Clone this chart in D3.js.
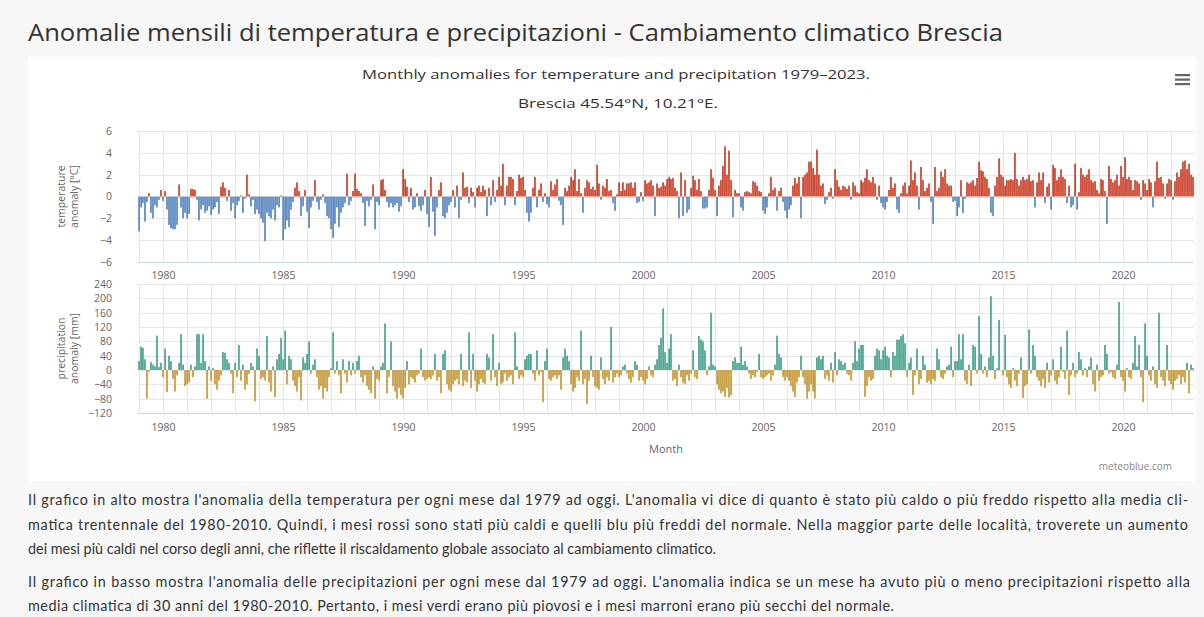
<!DOCTYPE html>
<html>
<head>
<meta charset="utf-8">
<script src="https://cdn.jsdelivr.net/npm/d3@7"></script>
<style>
  html, body { margin: 0; padding: 0; background: #f7f7f7; }
  svg { display: block; }
</style>
</head>
<body>
<div id="paper"></div>
<script>
// data, one row per year (Jan..Dec)

const startYear = 1979
const yearLabels = [1980, 1985, 1990, 1995, 2000, 2005, 2010, 2015, 2020]
const tempTicks = [-6, -4, -2, 0, 2, 4, 6]
const precipTicks = [-120, -80, -40, 0, 40, 80, 120, 160, 200, 240]

const temperatureAnomaly = [
  -3.2, -1.0, -0.6, -2.3, -0.5, 0.3, -1.5, -2.0, -0.8, -1.0, -0.3, 0.6, // 1979
  -0.4, 0.5, -1.2, -2.6, -2.9, -3.0, -3.0, -2.6, 1.1, -1.0, -2.0, -1.5,  // 1980
  -2.0, -1.6, 0.7, 0.7, 0.6, -0.3, -2.2, -1.2, -0.8, -1.5, -1.3, -0.9,   // 1981
  -1.7, -1.2, -1.0, -0.5, -1.6, 0.9, 1.3, 0.8, -0.4, 0.6, -1.3, -0.6,    // 1982
  -2.0, -0.8, -0.4, 0.1, -1.5, -0.2, 2.0, 0.2, -0.9, -0.3, -1.6, -1.2,   // 1983
  -1.6, -2.0, -2.4, -4.1, -1.5, -1.8, -2.0, -1.2, -2.2, -0.8, -1.0, 0.1, // 1984
  -4.0, -3.0, -2.2, -2.8, -1.2, -0.5, 0.8, 1.3, 0.5, -1.8, -0.9, 0.6,   // 1985
  -1.4, -2.9, -1.0, -0.4, 1.5, -0.5, -1.2, -0.3, 0.2, -0.6, -1.8, -2.0, // 1986
  -3.0, -3.8, -2.5, -1.0, -2.8, -1.5, -1.0, -0.6, 2.1, -0.8, -0.4, 0.5, // 1987
  2.1, 0.7, 0.5, 0.3, -0.6, -2.7, -0.4, -0.9, -0.3, 1.1, -3.0, -0.5,    // 1988
  -0.8, 1.5, 1.6, 0.6, -0.5, -1.0, -0.6, -1.0, -0.8, -0.6, -1.4, -0.9,  // 1989
  2.5, 1.6, 0.9, -0.5, 0.8, -1.2, -1.0, 0.3, -0.9, -1.3, -0.8, 0.6,     // 1990
  -1.6, -2.8, 1.8, -1.4, -3.6, -1.0, 0.6, 1.3, -1.8, -2.0, -1.5, -0.8,  // 1991
  -0.5, 0.6, -1.0, 1.0, -2.0, -0.3, 2.2, 0.8, 0.9, -0.6, 0.8, 0.4,      // 1992
  -1.0, 0.8, 1.0, 0.4, 1.0, 0.6, -1.8, 0.8, -0.8, 1.5, -0.5, 0.6,       // 1993
  1.8, 1.0, 3.0, -0.8, 1.0, 1.8, 1.8, 1.6, -0.8, 0.5, 2.0, 1.7,         // 1994
  1.8, 0.6, -1.5, -2.3, -1.5, 0.8, 1.8, -1.0, 0.6, 1.2, -0.5, 0.3,      // 1995
  -0.7, -1.0, 1.4, 0.6, 1.1, 1.6, -0.4, -0.8, -2.6, 0.8, 0.5, 1.0,      // 1996
  1.8, 1.5, 2.5, 0.5, 1.6, 0.3, -1.5, 0.8, 1.5, 1.3, 0.7, 0.9,          // 1997
  0.6, 2.9, 1.2, -0.3, 1.0, 0.8, 1.6, 0.5, 0.6, -0.6, -1.3, 0.2,        // 1998
  1.3, 0.5, 1.3, 0.6, 1.2, 1.2, 1.3, 0.8, 1.3, -0.6, -0.5, 0.4,         // 1999
  -0.4, 1.5, 1.2, 1.3, 1.5, 1.0, -1.8, 1.2, 0.8, 0.9, 1.3, 1.0,         // 2000
  1.6, 1.8, 1.6, 1.7, 0.8, 0.5, -2.0, 2.2, -1.8, 1.5, -1.5, -1.2,       // 2001
  0.8, 1.9, 1.5, 0.6, 1.6, 0.5, -1.1, -1.1, -1.0, 0.6, 2.5, 1.7,        // 2002
  0.6, -1.8, 1.0, 1.5, 2.8, 4.6, 2.0, 4.2, 1.5, -1.9, 0.6, 0.3,         // 2003
  0.3, -1.0, -1.3, 0.4, 0.5, 0.4, 0.3, 1.4, 1.3, 1.0, 0.5, 0.4,         // 2004
  -1.3, -1.6, -1.0, 0.3, 1.8, 0.6, 0.8, -1.3, 0.5, 0.8, -0.5, -1.3,     // 2005
  -2.0, -1.2, -0.8, 1.0, 1.7, 1.2, 1.8, -2.0, 1.8, 2.0, 2.2, 3.2,       // 2006
  3.2, 2.6, 2.0, 4.3, 2.0, 1.0, 1.2, -0.7, -0.3, 0.4, 0.8, -0.2,        // 2007
  2.5, 1.5, 0.9, 0.6, 1.0, 0.9, 0.7, 1.0, -0.3, 1.3, 1.0, 0.4,          // 2008
  0.3, 1.5, 1.3, 1.7, 2.5, 1.5, 1.3, 1.8, 1.2, -0.3, 1.0, -0.6,         // 2009
  -1.0, -1.2, -0.5, 0.6, 1.8, 0.8, 1.2, -1.2, -1.5, 0.3, 1.0, 1.3,      // 2010
  0.3, 1.0, 3.3, 1.5, 2.2, 1.0, -1.2, 2.7, 1.5, 0.5, 0.8, 1.2,          // 2011
  -0.5, -2.5, 2.7, 0.5, 0.8, 2.3, 1.8, 2.5, 1.2, 1.0, 1.0, -0.5,        // 2012
  -0.4, -1.8, -1.0, 1.5, -1.5, -0.2, 1.3, 1.2, 1.3, 1.5, 1.0, 1.7,      // 2013
  3.2, 2.4, 2.3, 1.8, 1.6, 0.8, -1.5, -1.8, 1.0, 1.8, 3.5, 2.0,         // 2014
  1.8, 1.0, 1.5, 1.5, 1.6, 1.5, 4.0, 1.6, 1.0, 1.5, 1.8, 1.5,           // 2015
  1.6, 2.0, 1.4, 1.5, -1.0, 1.3, 2.2, 1.5, 2.2, -0.6, 0.9, 1.2,         // 2016
  -1.2, 2.9, 2.6, 1.5, 1.8, 2.5, 1.8, 1.6, -0.6, 1.0, -1.0, -0.8,       // 2017
  3.0, -1.2, 0.4, 2.6, 2.0, 1.8, 2.0, 2.5, 1.5, 1.3, 1.4, 0.6,          // 2018
  0.3, 1.6, 1.5, 0.5, -2.5, 2.8, 1.6, 1.3, 1.5, 2.0, 1.0, 2.8,          // 2019
  1.8, 3.6, 1.6, 1.8, 1.5, 0.6, 1.5, 1.4, 1.2, -0.3, 1.5, 1.2,          // 2020
  0.6, 1.6, 1.3, -1.0, 1.4, 3.2, 1.7, 1.8, 1.2, -0.2, 1.2, 1.6,         // 2021
  1.5, -0.3, 1.4, 2.2, 1.8, 2.5, 3.2, 3.3, 2.5, 3.0, 2.0, 1.8           // 2022
]

const precipitationAnomaly = [
  25, 65, 62, 30, -80, -5, 22, 15, 10, 96, 8, 20,           // 1979
  -20, 60, -62, 40, 25, -25, -60, -15, 20, 100, 15, -45,    // 1980
  -40, -35, 15, -20, 10, 100, 100, 20, 100, 25, -80, 10,    // 1981
  -30, 5, -40, -55, -30, -15, 50, 48, 30, 20, -10, -65,     // 1982
  20, -20, 70, -30, 15, -55, -40, -10, 20, 10, -88, 60,     // 1983
  40, -25, -20, -30, 95, -35, -60, 10, -75, 30, 45, 90,     // 1984
  30, 110, -40, 40, 30, -30, -45, -60, -20, -85, 35, 20,    // 1985
  45, 80, -10, 15, 30, -20, -55, -45, -80, -50, -60, -20,   // 1986
  5, 105, -10, 25, -15, -65, 30, -10, -35, 25, -15, 20,     // 1987
  -10, 25, 40, -20, -35, -15, -45, -55, -65, 10, -80, -25,  // 1988
  -30, 10, 20, 130, -65, -20, 80, -45, -60, -80, -50, -70,  // 1989
  -80, -50, 25, -40, -20, -25, -35, -15, -10, 60, -20, -30, // 1990
  -25, -20, -25, -15, 45, -30, -20, -65, 45, 55, -40, -55,  // 1991
  -60, -40, -30, -25, -40, 45, -45, -30, -35, 105, -50, 45, // 1992
  -30, -60, -40, -25, -35, -40, 45, 35, -30, 100, -20, -45, // 1993
  20, -40, -35, -10, -30, -20, -15, -40, 105, 10, -25, -15, // 1994
  -20, 30, 40, 45, 45, -10, -30, 55, -15, -5, -90, 25,      // 1995
  60, -25, -30, -20, -15, -25, -15, -55, 35, 60, 40, 25,    // 1996
  -40, -60, -50, -20, -30, 110, -40, -25, -95, -30, 40, -20, // 1997
  -45, -50, -55, 35, -25, -40, -20, -30, 120, -35, -20, -10, // 1998
  -20, -15, 10, 15, -10, -25, -35, -20, 25, 15, -30, -20,   // 1999
  -30, -40, -25, 10, -15, -20, 15, 30, 70, 90, 172, 50,     // 2000
  20, 60, 100, -30, -25, -45, 15, -20, -35, -40, -15, -30,  // 2001
  -10, 55, -20, -25, 95, 85, 80, 55, -15, 10, 160, 15,      // 2002
  10, -40, -55, -65, -60, -75, -50, -77, -70, 25, 35, 20,   // 2003
  20, 65, 15, 25, 10, -10, -25, -15, -20, -5, 45, -20,      // 2004
  -25, -20, -15, -10, -30, -15, 15, 96, 45, 35, -20, -30,   // 2005
  -20, -30, -45, -60, -75, -35, -20, 40, -20, -40, -80, -60, // 2006
  -40, -60, -80, 35, 40, 30, 40, -25, -15, -30, 20, -35,    // 2007
  50, -15, 30, 25, 15, 20, -10, -15, -30, 20, 80, 25,       // 2008
  60, 70, 70, -75, -45, -20, -30, -25, 40, 60, 55, 30,      // 2009
  55, 65, 40, 35, -20, 50, 40, 85, 85, 95, 100, 75,         // 2010
  -20, 20, 35, -70, -15, 60, -40, -25, 40, 15, -35, -30,    // 2011
  -40, -25, -30, 60, 30, -20, -25, -10, 10, 15, 65, -20,    // 2012
  25, 25, 100, 30, 100, -30, -40, 15, -45, 70, 65, -10,     // 2013
  150, 45, -10, 10, -20, 35, 206, 40, -25, 5, 140, 0,       // 2014
  -15, 98, -20, -40, -50, 5, -30, -45, -10, 35, -78, -45,   // 2015
  -40, 113, -10, 70, 40, -20, -30, -45, -25, -50, 20, -35,  // 2016
  -15, 30, -30, -40, -20, 65, -5, -25, 110, -70, -15, 20,   // 2017
  -20, -10, 50, 30, -15, 5, -20, 10, 35, -40, -60, 15,      // 2018
  -30, -20, -15, 70, 45, -10, -5, -20, -25, 15, 190, -20,   // 2019
  -30, -60, 5, -20, -25, 20, 95, 10, 70, -20, -90, 130,     // 2020
  40, -15, -30, 10, -40, -50, 160, -20, -30, -45, 70, -30,  // 2021
  -40, -55, -30, -25, -15, -40, -20, -35, 20, -65, 15, 5    // 2022
]

const pageTitle = "Anomalie mensili di temperatura e precipitazioni - Cambiamento climatico Brescia"
const chartTitle = "Monthly anomalies for temperature and precipitation 1979\u20132023."
const chartSubtitle = "Brescia 45.54\u00b0N, 10.21\u00b0E."
const paragraphLines = [
  "Il grafico in alto mostra l'anomalia della temperatura per ogni mese dal 1979 ad oggi. L'anomalia vi dice di quanto è stato più caldo o più freddo rispetto alla media cli-",
  "matica trentennale del 1980-2010. Quindi, i mesi rossi sono stati più caldi e quelli blu più freddi del normale. Nella maggior parte delle località, troverete un aumento",
  "dei mesi più caldi nel corso degli anni, che riflette il riscaldamento globale associato al cambiamento climatico.",
  "Il grafico in basso mostra l'anomalia delle precipitazioni per ogni mese dal 1979 ad oggi. L'anomalia indica se un mese ha avuto più o meno precipitazioni rispetto alla",
  "media climatica di 30 anni del 1980-2010. Pertanto, i mesi verdi erano più piovosi e i mesi marroni erano più secchi del normale."
]

// layout

const W = 1204, H = 617
const left = 138, right = 1194
const lineY = [500, 525, 549, 582, 606]
const lineW = [1160, 1160, 688, 1162, 866]
const font = "'Open Sans', 'DejaVu Sans', sans-serif"
const textFont = "Lato, 'Open Sans', sans-serif"

const svg = d3.select("#paper")
    .append("svg")
    .attr("id", "canvas")
    .attr("width", W)
    .attr("height", H)

svg.append('rect').attr('width', W).attr('height', H).attr('fill', '#f7f7f7')
svg.append('rect').attr('x', 28).attr('y', 57).attr('width', 1168).attr('height', 424).attr('fill', '#ffffff')

svg.append('text')
    .attr('x', 28).attr('y', 41)
    .attr('font-family', font).attr('font-size', '24px')
    .attr('textLength', 975).attr('lengthAdjust', 'spacingAndGlyphs')
    .style('fill', '#333')
    .text(pageTitle)

svg.append('text')
    .attr('x', 616).attr('y', 79)
    .attr('text-anchor', 'middle')
    .attr('font-family', font).attr('font-size', '13px')
    .attr('textLength', 508).attr('lengthAdjust', 'spacingAndGlyphs')
    .style('fill', '#333')
    .text(chartTitle)

svg.append('text')
    .attr('x', 618).attr('y', 108)
    .attr('text-anchor', 'middle')
    .attr('font-family', font).attr('font-size', '13px')
    .attr('textLength', 200).attr('lengthAdjust', 'spacingAndGlyphs')
    .style('fill', '#333')
    .text(chartSubtitle)

// hamburger menu
svg.selectAll('.burger')
    .data([0, 1, 2])
    .join('rect')
    .attr('x', 1175).attr('y', d => 74 + d * 4.5)
    .attr('width', 15).attr('height', 2.2)
    .attr('fill', '#666')

// scales

const months = temperatureAnomaly.map((_, i) => new Date(Date.UTC(startYear, i, 1)))
const nYears = temperatureAnomaly.length / 12

const x = d3.scaleUtc()
    .domain([new Date(Date.UTC(startYear - 1, 11, 16)), new Date(Date.UTC(startYear + nYears - 1, 11, 16))])
    .range([left, right])

const yT = d3.scaleLinear().domain([-6, 6]).range([262, 131])
const yP = d3.scaleLinear().domain([-120, 240]).range([413, 284])

const gridYears = d3.range(startYear, startYear + nYears).map(y => new Date(Date.UTC(y, 0, 1)))

function panel(y, ticks, values, posColor, negColor, title1, title2, labelY) {
    const g = svg.append('g')
    const top = y.range()[1], bottom = y.range()[0]

    g.selectAll('.hg').data(ticks).join('line')
        .attr('x1', left).attr('x2', right)
        .attr('y1', d => Math.round(y(d)) + 0.5).attr('y2', d => Math.round(y(d)) + 0.5)
        .attr('stroke', '#e6e6e6').attr('stroke-width', 1)

    g.selectAll('.vg').data(gridYears).join('line')
        .attr('x1', d => Math.round(x(d)) + 0.5).attr('x2', d => Math.round(x(d)) + 0.5)
        .attr('y1', top).attr('y2', bottom)
        .attr('stroke', '#e6e6e6').attr('stroke-width', 1)

    g.selectAll('.bar').data(values).join('rect')
        .attr('x', (d, i) => x(months[i]) - 0.8)
        .attr('width', 1.6)
        .attr('y', d => y(Math.max(0, d)))
        .attr('height', d => Math.abs(y(d) - y(0)))
        .attr('fill', d => d >= 0 ? posColor : negColor)

    g.append('line')
        .attr('x1', left).attr('x2', right)
        .attr('y1', bottom + 0.5).attr('y2', bottom + 0.5)
        .attr('stroke', '#ccd6eb')

    const ax = d3.axisLeft(y).tickValues(ticks).tickSize(0).tickPadding(0)
    g.append('g')
        .attr('transform', `translate(112,0)`)
        .call(ax)
        .call(s => s.select('.domain').remove())
        .selectAll('text')
        .attr('font-family', font).attr('font-size', '10.5px')
        .style('fill', '#666')

    const bx = d3.axisBottom(x)
        .tickValues(yearLabels.map(v => new Date(Date.UTC(v, 0, 1))))
        .tickFormat(d3.utcFormat('%Y'))
        .tickSize(0)
    g.append('g')
        .attr('transform', `translate(0,${labelY})`)
        .call(bx)
        .call(s => s.select('.domain').remove())
        .selectAll('text')
        .attr('font-family', font).attr('font-size', '10.5px')
        .style('fill', '#666')

    const cy = (top + bottom) / 2
    ;[title1, title2].forEach((t, i) => {
        svg.append('text')
            .attr('transform', `translate(${65 + i * 13},${cy}) rotate(-90)`)
            .attr('text-anchor', 'middle')
            .attr('font-family', font).attr('font-size', '10.5px')
            .style('fill', '#666')
            .text(t)
    })
}

panel(yT, tempTicks, temperatureAnomaly, '#c8341b', '#4f7fbc', 'temperature', 'anomaly [°C]', 269)
panel(yP, precipTicks, precipitationAnomaly, '#3b9e88', '#c3922f', 'precipitation', 'anomaly [mm]', 421)

svg.append('text')
    .attr('x', 666).attr('y', 453)
    .attr('text-anchor', 'middle')
    .attr('font-family', font).attr('font-size', '11px')
    .style('fill', '#666')
    .text('Month')

svg.append('text')
    .attr('x', 1172).attr('y', 470)
    .attr('text-anchor', 'end')
    .attr('font-family', font).attr('font-size', '10px')
    .style('fill', '#888')
    .text('meteoblue.com')

// text under the chart, sized so the short line keeps its width

const para = svg.selectAll('.para')
    .data(paragraphLines)
    .join('text')
    .attr('x', 28)
    .attr('y', (d, i) => lineY[i] + 5)
    .attr('font-family', textFont).attr('font-size', '14px')
    .style('fill', '#333')
    .text(d => d)

const natural = para.nodes()[2].getComputedTextLength()
const fs = Math.min(14.5, 14 * lineW[2] / natural)
para.attr('font-size', fs + 'px')

para.each(function(d, i) {
    const w = this.getComputedTextLength()
    d3.select(this)
        .attr('textLength', lineW[i])
        .attr('lengthAdjust', w <= lineW[i] ? 'spacing' : 'spacingAndGlyphs')
})
</script>
</body>
</html>
